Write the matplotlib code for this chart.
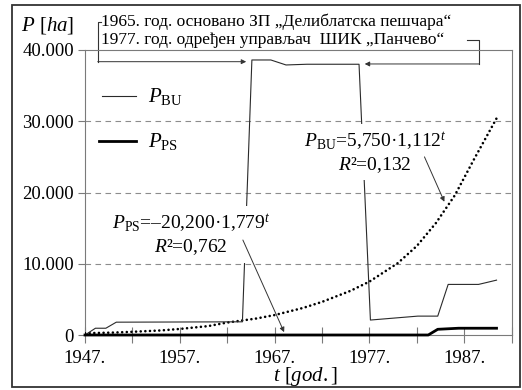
# Povrsina pod bagremom (BU) i pod pascima (PS), 1947-1990.
import matplotlib
matplotlib.use('Agg')
import matplotlib.pyplot as plt
from matplotlib.patches import Rectangle

# Podaci
bu_years = [1947, 1948.1, 1949.2, 1950.3, 1963.6, 1964.6, 1966.6, 1968.2, 1970.4,
            1975.9, 1977.1, 1982.1, 1984.2, 1985.3, 1988.5, 1989.3, 1990.4]
bu_area = [0, 950, 950, 1800, 1850, 38600, 38600, 37900, 38000,
           38000, 2100, 2650, 2650, 7100, 7100, 7350, 7700]

ps_years = [1947, 1983.2, 1984.2, 1986.4, 1990.4]
ps_area = [0, 0, 800, 950, 950]

# eksponencijalni trend za BU
trend_years = [1947, 1950, 1952, 1955, 1957, 1960, 1962, 1965, 1967, 1970, 1972,
               1975, 1977, 1980, 1982, 1984, 1986, 1988, 1990.4]
trend_area = [250, 340, 450, 640, 850, 1250, 1750, 2300, 2800, 3800, 4650,
              6200, 7500, 10100, 12500, 15700, 19600, 24600, 30400]

y_ticks = [0, 10000, 20000, 30000, 40000]
y_labels = ['0', '10.000', '20.000', '30.000', '40.000']
x_ticks = [1947, 1957, 1967, 1977, 1987]
x_labels = ['1947.', '1957.', '1967.', '1977.', '1987.']
x_minor = [1952, 1962, 1972, 1982, 1992]
grid_levels = [10000, 20000, 30000]

plt.rcParams['font.family'] = ['Liberation Serif', 'DejaVu Serif']
plt.rcParams['mathtext.fontset'] = 'custom'
plt.rcParams['mathtext.rm'] = 'Liberation Serif'
plt.rcParams['mathtext.it'] = 'Liberation Serif:italic'

fig = plt.figure(figsize=(5.22, 3.90), dpi=100)
ax = fig.add_axes([85/522, 55/390, (511.7-85)/522, 285/390])
ax.set_xlim(1947, 1992)
ax.set_ylim(0, 40000)

for sp in ax.spines.values():
    sp.set_color('#7a7a7a')
    sp.set_linewidth(0.8)

for g in grid_levels:
    ax.axhline(g, color='#8c8c8c', lw=0.8, ls=(0, (5, 4)), zorder=1)

ax.plot(trend_years, trend_area, color='black', lw=1.9, ls=(0, (0.01, 1.75)),
        dash_capstyle='round', zorder=3)
ax.plot(bu_years, bu_area, color='#2a2a2a', lw=0.8, clip_on=False, zorder=3)
ax.plot(ps_years, ps_area, color='black', lw=2.0, clip_on=False, zorder=4)

ax.set_yticks(y_ticks)
ax.set_yticklabels(y_labels)
ax.set_xticks(x_ticks)
ax.set_xticklabels(x_labels)
ax.set_xticks(x_minor, minor=True)
ax.tick_params(axis='y', direction='out', length=5, width=0.8, color='#7a7a7a',
               labelsize=13.5, pad=3)
ax.tick_params(axis='x', which='both', direction='inout', length=11, width=0.8,
               color='#7a7a7a', labelsize=13.5, pad=5)

# legenda
ax.plot([1948.76, 1952.39], [33590, 33590], color='#2a2a2a', lw=0.8)
ax.plot([1948.5, 1952.39], [27230, 27230], color='black', lw=2.0)
ax.text(1953.6, 33500, r'$P_{\mathrm{BU}}$', fontsize=15, va='center')
ax.text(1953.6, 27100, r'$P_{\mathrm{PS}}$', fontsize=15, va='center')

# jednacine trenda
box = dict(facecolor='white', edgecolor='none', pad=4)
ax.text(1977.6, 25600, r'$P_{\mathrm{BU}}$=5,750·1,112$^{t}$' + '\n' + r'$R$²=0,132',
        fontsize=14, ha='center', va='center', linespacing=1.15, bbox=box, zorder=5)
ax.text(1958.2, 14050, r'$P_{\mathrm{PS}}$=–20,200·1,779$^{t}$' + '\n' + r'$R$²=0,762',
        fontsize=14, ha='center', va='center', linespacing=1.15, bbox=box, zorder=5)

arrow = dict(arrowstyle='-|>', color='#333333', lw=0.7, mutation_scale=7,
             shrinkA=0, shrinkB=0)
ax.annotate('', xy=(1984.9, 18700), xytext=(1982.8, 25000), arrowprops=arrow, zorder=6)
ax.annotate('', xy=(1968.0, 400), xytext=(1963.65, 13330), arrowprops=arrow,
            annotation_clip=False, zorder=6)

# napomene o zastiti i upravljacu
ax.plot([1948.7, 1948.34, 1948.34], [44000, 44000, 38360], color='#333333', lw=0.8,
        clip_on=False)
ax.annotate('', xy=(1964.0, 38360), xytext=(1948.34, 38360), arrowprops=arrow,
            annotation_clip=False)
ax.plot([1987.3, 1988.6, 1988.6], [41450, 41450, 38040], color='#333333', lw=0.8,
        clip_on=False)
ax.annotate('', xy=(1976.5, 38040), xytext=(1988.6, 38040), arrowprops=arrow,
            annotation_clip=False)
ax.text(1948.7, 44000, '1965. год. основано ЗП „Делиблатска пешчара“', fontsize=12.5,
        va='center', clip_on=False)
ax.text(1948.7, 41450, '1977. год. одређен управљач  ШИК „Панчево“', fontsize=12.5,
        va='center', clip_on=False)

fig.text(48/522, 1 - 25/390, r'$P$ [$ha$]', fontsize=15, ha='center', va='center')
fig.text(305/522, 1 - 376/390, r'$t$ [$god.$]', fontsize=15, ha='center', va='center')

fig.patches.append(Rectangle((11.7/522, 3/390), 508/522, 382/390, transform=fig.transFigure,
                             fill=False, edgecolor='#333333', lw=1.3))

plt.savefig('out.png', dpi=100)
